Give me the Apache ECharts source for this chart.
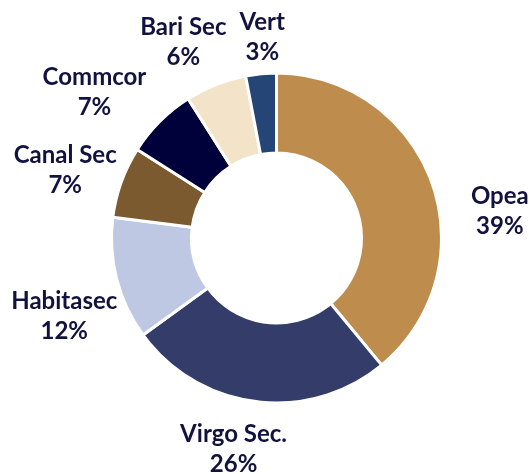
<!DOCTYPE html>
<html>
<head>
<meta charset="utf-8">
<script src="https://cdn.jsdelivr.net/npm/echarts@6/dist/echarts.min.js"></script>
<style>
  html, body { margin: 0; padding: 0; background: #fff; }
  #donut { width: 529px; height: 474px; }
</style>
</head>
<body>
<div id="donut"></div>
<script>
var names = ['Opea', 'Virgo Sec.', 'Habitasec', 'Canal Sec', 'Commcor', 'Bari Sec', 'Vert']
var shares = [39, 26, 12, 7, 7, 6, 3]
var colors = ['#BE8D4E', '#343D6A', '#BFC8E3', '#7B5A2F', '#00003A', '#F3E3C9', '#264577']

// nudges for the labels (Excel "best fit" placement is not purely radial)
var labelShift = [[21, 46], [-16, -2], [-4, 25], [-9, 5], [-30, 6], [-14, 4], [6, 13]]

var myChart = echarts.init(document.getElementById('donut'))

var option = {
  animation: false,
  color: colors,
  series: [
    {
      type: 'pie',
      center: [276.5, 238],
      radius: [85, 165],
      startAngle: 90,
      clockwise: true,
      avoidLabelOverlap: false,
      itemStyle: {
        borderColor: '#fff',
        borderWidth: 3
      },
      label: {
        show: true,
        position: 'outside',
        formatter: '{b}\n{c}%',
        color: '#12123F',
        fontFamily: 'Lato',
        fontWeight: 'bold',
        fontSize: 24,
        lineHeight: 30,
        distanceToLabelLine: 0
      },
      labelLine: {
        show: false,
        length: 50,
        length2: 0
      },
      labelLayout: function(params) {
        var s = labelShift[params.dataIndex]
        return { align: 'center', verticalAlign: 'middle', dx: s[0], dy: s[1] }
      },
      data: names.map(function(n, i) {
        return { name: n, value: shares[i] }
      })
    }
  ]
}
myChart.setOption(option)
window.onresize = function() {
  myChart.resize()
}
</script>
</body>
</html>
